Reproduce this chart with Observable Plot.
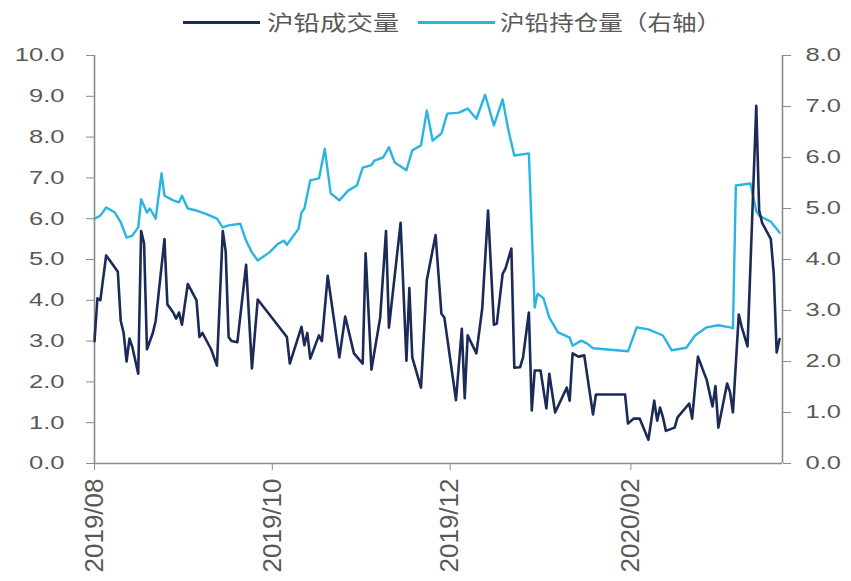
<!DOCTYPE html>
<html>
<head>
<meta charset="utf-8">
<script src="https://cdn.jsdelivr.net/npm/d3@7"></script>
<script src="https://cdn.jsdelivr.net/npm/@observablehq/plot@0.6"></script>
<style>
  html, body { margin: 0; padding: 0; background: #fff; }
  #legend { position: relative; width: 851px; height: 40px; font-family: "Noto Sans CJK SC", sans-serif; color: #595959; }
  #legend .ln { position: absolute; top: 21px; height: 3px; width: 77px; }
  #legend .tx { position: absolute; top: 7px; font-size: 21px; line-height: 28px; white-space: nowrap; transform-origin: left center; }
  #chart svg { display: block; overflow: visible; }
</style>
</head>
<body>
<div id="legend"></div>
<div id="chart"></div>
<script>
// ---- data ----
const seriesNames = ["沪铅成交量", "沪铅持仓量（右轴）"];
const xTickLabels = ["2019-08-01", "2019-10-01", "2019-12-01", "2020-02-01"];
const leftTicks = [0, 1, 2, 3, 4, 5, 6, 7, 8, 9, 10];
const rightTicks = [0, 1, 2, 3, 4, 5, 6, 7, 8];

const volDates = ["2019-08-01","2019-08-02","2019-08-03","2019-08-05","2019-08-07","2019-08-09","2019-08-10","2019-08-11","2019-08-12","2019-08-13","2019-08-14","2019-08-16","2019-08-17","2019-08-18","2019-08-19","2019-08-21","2019-08-22","2019-08-25","2019-08-26","2019-08-28","2019-08-29","2019-08-30","2019-08-31","2019-09-02","2019-09-05","2019-09-06","2019-09-07","2019-09-10","2019-09-12","2019-09-14","2019-09-15","2019-09-16","2019-09-17","2019-09-19","2019-09-22","2019-09-24","2019-09-26","2019-10-06","2019-10-07","2019-10-11","2019-10-12","2019-10-13","2019-10-14","2019-10-17","2019-10-18","2019-10-20","2019-10-24","2019-10-26","2019-10-29","2019-11-01","2019-11-02","2019-11-04","2019-11-07","2019-11-09","2019-11-10","2019-11-14","2019-11-16","2019-11-17","2019-11-18","2019-11-21","2019-11-23","2019-11-26","2019-11-28","2019-11-29","2019-12-03","2019-12-05","2019-12-06","2019-12-07","2019-12-10","2019-12-12","2019-12-14","2019-12-16","2019-12-17","2019-12-19","2019-12-20","2019-12-22","2019-12-23","2019-12-25","2019-12-26","2019-12-28","2019-12-29","2019-12-30","2020-01-01","2020-01-03","2020-01-04","2020-01-06","2020-01-10","2020-01-11","2020-01-12","2020-01-14","2020-01-16","2020-01-19","2020-01-20","2020-01-30","2020-01-31","2020-02-02","2020-02-04","2020-02-07","2020-02-09","2020-02-10","2020-02-11","2020-02-12","2020-02-13","2020-02-16","2020-02-17","2020-02-21","2020-02-22","2020-02-24","2020-02-27","2020-02-29","2020-03-01","2020-03-02","2020-03-05","2020-03-06","2020-03-07","2020-03-09","2020-03-10","2020-03-12","2020-03-15","2020-03-16","2020-03-17","2020-03-20","2020-03-21","2020-03-22","2020-03-23"];
const volValues = [3.0,4.05,4.0,5.1,4.9,4.7,3.5,3.2,2.5,3.06,2.85,2.2,5.7,5.4,2.8,3.2,3.5,5.5,3.9,3.7,3.55,3.7,3.4,4.4,4.0,3.1,3.2,2.8,2.4,5.7,5.2,3.1,3.0,2.97,4.87,2.33,4.02,3.1,2.45,3.35,2.9,3.2,2.57,3.14,3.0,4.6,2.6,3.6,2.7,2.45,5.15,2.3,3.58,5.7,3.33,5.9,2.52,4.3,2.6,1.86,4.5,5.6,3.67,3.58,1.55,3.3,1.6,3.14,2.7,3.8,6.2,3.4,3.43,4.65,4.78,5.27,2.35,2.36,2.6,3.7,1.3,2.28,2.28,1.35,2.2,1.25,1.86,1.54,2.7,2.62,2.65,1.2,1.69,1.69,0.98,1.1,1.1,0.58,1.54,1.05,1.37,1.13,0.8,0.88,1.13,1.47,1.1,2.62,2.05,1.4,1.9,0.88,1.96,1.75,1.25,3.65,3.35,2.87,8.77,6.2,5.9,5.5,4.65,2.72,3.05];

const holdDates = ["2019-08-01","2019-08-03","2019-08-05","2019-08-08","2019-08-10","2019-08-12","2019-08-14","2019-08-16","2019-08-17","2019-08-19","2019-08-20","2019-08-22","2019-08-24","2019-08-25","2019-08-28","2019-08-30","2019-08-31","2019-09-02","2019-09-05","2019-09-08","2019-09-12","2019-09-14","2019-09-16","2019-09-20","2019-09-22","2019-09-24","2019-09-26","2019-09-30","2019-10-03","2019-10-05","2019-10-06","2019-10-10","2019-10-11","2019-10-12","2019-10-14","2019-10-17","2019-10-19","2019-10-21","2019-10-24","2019-10-27","2019-10-30","2019-11-01","2019-11-04","2019-11-05","2019-11-08","2019-11-10","2019-11-12","2019-11-16","2019-11-18","2019-11-21","2019-11-23","2019-11-25","2019-11-28","2019-11-30","2019-12-04","2019-12-07","2019-12-10","2019-12-13","2019-12-16","2019-12-19","2019-12-21","2019-12-23","2019-12-28","2019-12-30","2019-12-31","2020-01-02","2020-01-04","2020-01-07","2020-01-11","2020-01-12","2020-01-15","2020-01-17","2020-01-19","2020-01-31","2020-02-03","2020-02-07","2020-02-12","2020-02-15","2020-02-20","2020-02-23","2020-02-27","2020-03-02","2020-03-06","2020-03-07","2020-03-08","2020-03-13","2020-03-15","2020-03-16","2020-03-20","2020-03-23"];
const holdValues = [4.8,4.86,5.02,4.92,4.73,4.43,4.47,4.63,5.18,4.92,5.0,4.8,5.69,5.25,5.16,5.12,5.25,5.0,4.96,4.9,4.8,4.63,4.67,4.7,4.37,4.14,3.98,4.14,4.31,4.37,4.29,4.6,4.92,5.0,5.55,5.59,6.17,5.3,5.16,5.35,5.45,5.8,5.85,5.94,6.0,6.2,5.9,5.75,6.14,6.24,6.92,6.33,6.47,6.86,6.88,6.96,6.76,7.23,6.63,7.14,6.53,6.04,6.08,3.06,3.33,3.24,2.86,2.57,2.47,2.31,2.41,2.35,2.26,2.2,2.67,2.63,2.51,2.22,2.27,2.51,2.67,2.71,2.67,2.65,5.45,5.49,4.95,4.86,4.74,4.53];

const xDomain = ["2019-08-01", "2020-03-24"];
const leftMax = 10, rightMax = 8;
const k = leftMax / rightMax;

// ---- build ----
const navy = "#1c2a57";
const cyan = "#2ab4e3";
const axisGray = "#8c8c8c";
const textGray = "#595959";
const parse = d3.utcParse("%Y-%m-%d");

const vol = volDates.map((d, i) => ({date: parse(d), v: volValues[i]}));
const hold = holdDates.map((d, i) => ({date: parse(d), v: holdValues[i]}));
const xd = xDomain.map(parse);

// legend
const legend = document.getElementById("legend");
legend.innerHTML = `
  <div class="ln" style="left:183px;background:${navy}"></div>
  <div class="tx" style="left:267px;transform:scaleX(1.26)">${seriesNames[0]}</div>
  <div class="ln" style="left:418px;background:${cyan}"></div>
  <div class="tx" style="left:500px;transform:scaleX(1.17)">${seriesNames[1]}</div>`;

const chart = Plot.plot({
  width: 851,
  height: 541,
  marginTop: 15,
  marginBottom: 118,
  marginLeft: 94,
  marginRight: 69,
  style: {fontFamily: "'Liberation Sans', Arial, sans-serif", fontSize: "18.5px", color: textGray, background: "#fff"},
  x: {type: "utc", domain: xd},
  y: {domain: [0, leftMax]},
  marks: [
    Plot.ruleY([0], {stroke: axisGray, strokeWidth: 1.6}),
    Plot.ruleX([xd[0]], {stroke: axisGray, strokeWidth: 1.6}),
    Plot.ruleX([xd[1]], {stroke: axisGray, strokeWidth: 1.6}),
    Plot.lineY(hold, {x: "date", y: d => d.v * k, stroke: cyan, strokeWidth: 2.4, strokeLinejoin: "round"}),
    Plot.lineY(vol, {x: "date", y: "v", stroke: navy, strokeWidth: 2.6, strokeLinejoin: "round"}),
    Plot.axisY(leftTicks, {anchor: "left", tickSize: 8, tickPadding: 22, tickFormat: d => d.toFixed(1), label: null, stroke: axisGray}),
    Plot.axisY(rightTicks.map(v => v * k), {anchor: "right", tickSize: 8, tickPadding: 15, tickFormat: d => (d / k).toFixed(1), label: null, stroke: axisGray}),
    Plot.axisX(xTickLabels.map(parse), {anchor: "bottom", tickSize: 7, tickPadding: 8, tickRotate: -90, tickFormat: d3.utcFormat("%Y/%m"), label: null, fontSize: 26, stroke: axisGray})
  ]
});
document.getElementById("chart").appendChild(chart);

// widen y tick labels to match the reference's wide digits
chart.querySelectorAll('g[aria-label="y-axis tick label"] text').forEach(t => {
  const tr = t.getAttribute("transform") || "";
  t.setAttribute("transform", tr + " scale(1.38,1)");
});
</script>
</body>
</html>
